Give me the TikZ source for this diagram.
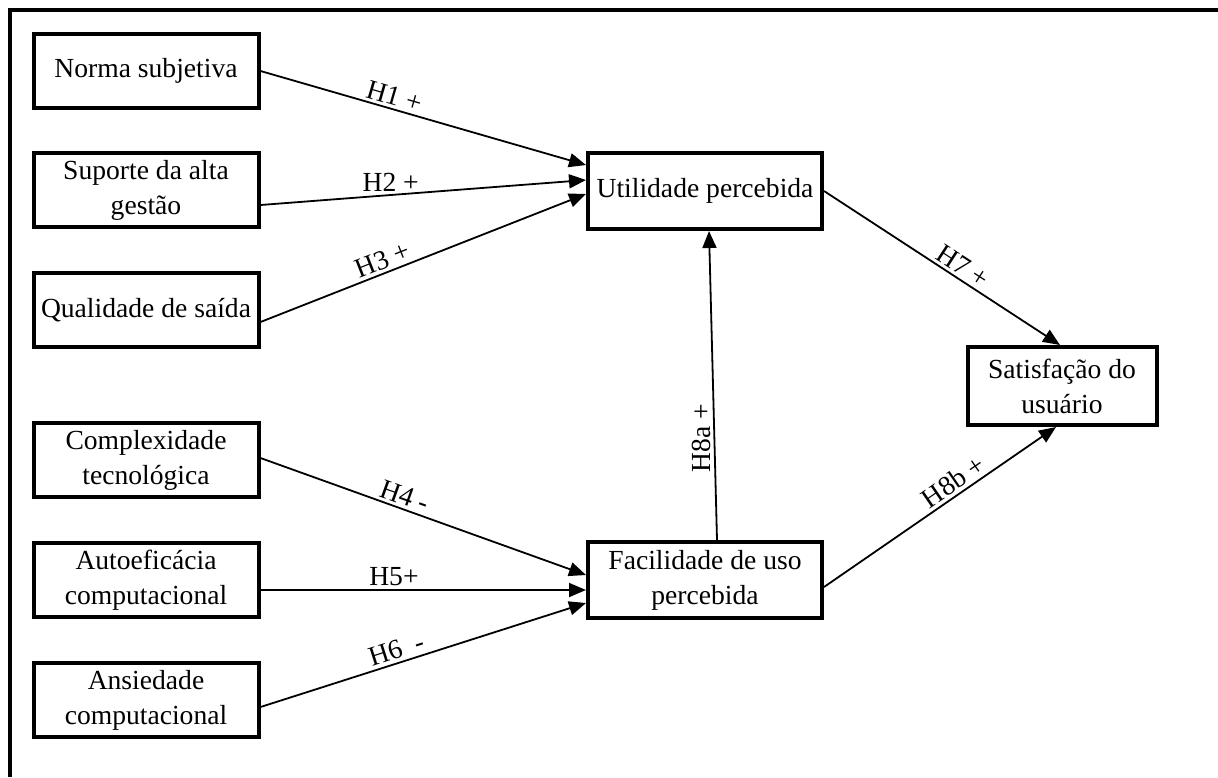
\documentclass[tikz,border=0pt]{standalone}
\usepackage{fontspec}
\setmainfont{Liberation Serif}
\usepackage{tikz}
\usetikzlibrary{arrows.meta}

\begin{document}
\begin{tikzpicture}[x=0.5pt, y=-0.5pt,
    box/.style={draw, line width=2pt, rectangle, inner sep=2pt, align=center,
      minimum width=112.5pt, minimum height=37pt,
      font=\fontsize{13.8}{17.5}\selectfont},
    hyp/.style={line width=0.9pt, -{Triangle[length=8.5pt, width=7pt]}},
    lbl/.style={font=\fontsize{13.8}{16}\selectfont, inner sep=1.5pt}]
  \useasboundingbox (0,0) rectangle (1218,777);

  % ── Outer frame ──
  \draw[line width=1.6pt] (10,777) -- (10,10) -- (1218,10);

  % ── Antecedents (left column) ──
  \node[box] (norma) at (146,71)  {Norma subjetiva};
  \node[box] (suporte) at (146,190) {Suporte da alta\\gestão};
  \node[box] (qualid) at (146,310) {Qualidade de saída};
  \node[box] (complex) at (146,460) {Complexidade\\tecnológica};
  \node[box] (autoef) at (146,580) {Autoeficácia\\computacional};
  \node[box] (ansied) at (146,700) {Ansiedade\\computacional};

  % ── TAM core ──
  \node[box, minimum width=117pt, minimum height=38pt] (util) at (705,191)
    {Utilidade percebida};
  \node[box, minimum width=117pt, minimum height=38pt] (facil) at (705,580)
    {Facilidade de uso\\percebida};
  \node[box, minimum width=94.5pt, minimum height=39pt] (satis) at (1062,386)
    {Satisfação do\\usuário};

  % ── Hypotheses towards usefulness ──
  \draw[hyp] (norma.east) -- node[lbl, sloped, above, pos=0.4] {H1 +}
    ([yshift=13pt]util.west);
  \draw[hyp] ([yshift=-7.5pt]suporte.east) -- node[lbl, above, pos=0.4] {H2 +}
    ([yshift=5.5pt]util.west);
  \draw[hyp] ([yshift=-6pt]qualid.east) -- node[lbl, sloped, above, pos=0.39] {H3 +}
    ([yshift=-1.5pt]util.west);

  % ── Hypotheses towards ease of use ──
  \draw[hyp] ([yshift=1pt]complex.east) -- node[lbl, sloped, above, pos=0.43] {H4 -}
    ([yshift=2.5pt]facil.west);
  \draw[hyp] ([yshift=-5pt]autoef.east) -- node[lbl, above, pos=0.41] {H5+}
    ([yshift=-5pt]facil.west);
  \draw[hyp] ([yshift=-3.5pt]ansied.east) -- node[lbl, sloped, above, pos=0.43] {H6\ \ -}
    ([yshift=-11.5pt]facil.west);

  % ── Ease of use, usefulness and satisfaction ──
  \draw[hyp] ([xshift=6pt]facil.north) -- node[lbl, rotate=90, above, pos=0.33] {H8a +}
    ([xshift=2pt]util.south);
  \draw[hyp] (util.east) -- node[lbl, sloped, above, pos=0.56] {H7 +}
    ([xshift=-1pt]satis.north);
  \draw[hyp] ([yshift=-3.5pt]facil.east) -- node[lbl, sloped, above, pos=0.59] {H8b +}
    ([xshift=-3pt]satis.south);
\end{tikzpicture}
\end{document}
